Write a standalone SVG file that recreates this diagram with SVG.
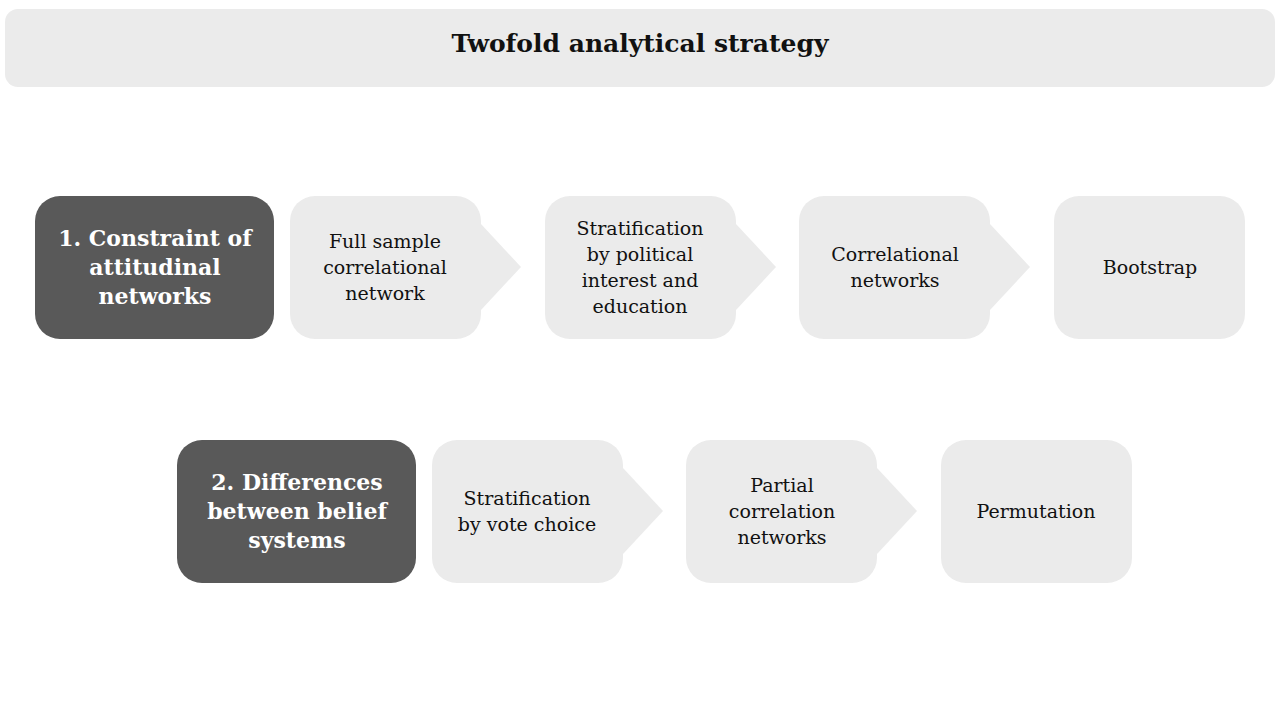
<svg xmlns="http://www.w3.org/2000/svg" width="1280" height="720" viewBox="0 0 1280 720">
<defs>
<style>
.bg{fill:#ebebeb}
.dk{fill:#595959}
.t{font-family:"DejaVu Serif","Liberation Serif",serif;font-size:19px;fill:#111;text-anchor:middle}
.h{font-family:"DejaVu Serif","Liberation Serif",serif;font-size:22px;font-weight:bold;fill:#fff;text-anchor:middle}
.ttl{font-family:"DejaVu Serif","Liberation Serif",serif;font-size:25px;font-weight:bold;fill:#111;text-anchor:middle}
</style>
</defs>
<rect width="1280" height="720" fill="#fff"/>
<g id="title">
<rect class="bg" x="5" y="9" width="1270" height="78" rx="13"/>
<text class="ttl" x="640" y="52">Twofold analytical strategy</text>
</g>
<g id="connectors">
<polygon class="bg" points="481,224 521,267 481,310"/>
<polygon class="bg" points="736,224 776,267 736,310"/>
<polygon class="bg" points="990,224 1030,267 990,310"/>
<polygon class="bg" points="623,468 663,511 623,554"/>
<polygon class="bg" points="877,468 917,511 877,554"/>
</g>
<g id="n1">
<rect class="dk" x="35" y="196" width="239" height="143" rx="25"/>
<text class="h" x="155" y="246">1. Constraint of</text>
<text class="h" x="155" y="275">attitudinal</text>
<text class="h" x="155" y="304">networks</text>
</g>
<g id="n2">
<rect class="bg" x="290" y="196" width="191" height="143" rx="25"/>
<text class="t" x="385" y="248">Full sample</text>
<text class="t" x="385" y="274">correlational</text>
<text class="t" x="385" y="300">network</text>
</g>
<g id="n3">
<rect class="bg" x="545" y="196" width="191" height="143" rx="25"/>
<text class="t" x="640" y="235">Stratification</text>
<text class="t" x="640" y="261">by political</text>
<text class="t" x="640" y="287">interest and</text>
<text class="t" x="640" y="313">education</text>
</g>
<g id="n4">
<rect class="bg" x="799" y="196" width="191" height="143" rx="25"/>
<text class="t" x="895" y="261">Correlational</text>
<text class="t" x="895" y="287">networks</text>
</g>
<g id="n5">
<rect class="bg" x="1054" y="196" width="191" height="143" rx="25"/>
<text class="t" x="1150" y="274">Bootstrap</text>
</g>
<g id="n6">
<rect class="dk" x="177" y="440" width="239" height="143" rx="25"/>
<text class="h" x="297" y="490">2. Differences</text>
<text class="h" x="297" y="519">between belief</text>
<text class="h" x="297" y="548">systems</text>
</g>
<g id="n7">
<rect class="bg" x="432" y="440" width="191" height="143" rx="25"/>
<text class="t" x="527" y="505">Stratification</text>
<text class="t" x="527" y="531">by vote choice</text>
</g>
<g id="n8">
<rect class="bg" x="686" y="440" width="191" height="143" rx="25"/>
<text class="t" x="782" y="492">Partial</text>
<text class="t" x="782" y="518">correlation</text>
<text class="t" x="782" y="544">networks</text>
</g>
<g id="n9">
<rect class="bg" x="941" y="440" width="191" height="143" rx="25"/>
<text class="t" x="1036" y="518">Permutation</text>
</g>
</svg>
